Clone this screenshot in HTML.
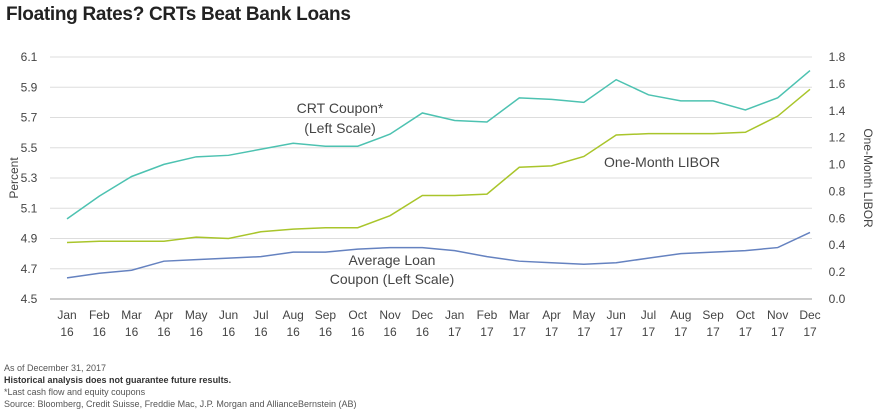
<!DOCTYPE html>
<html><head><meta charset="utf-8"><style>
body{margin:0;background:#fff;font-family:"Liberation Sans",sans-serif;}
#wrap{position:relative;width:880px;height:410px;overflow:hidden;}
.title{position:absolute;left:6px;top:4px;font-size:19px;font-weight:bold;color:#222;letter-spacing:-0.3px;}
.foot{position:absolute;left:4px;font-size:9px;color:#555;}
svg text{font-family:"Liberation Sans",sans-serif;}
</style></head><body>
<div id="wrap">
<div class="title">Floating Rates? CRTs Beat Bank Loans</div>
<svg id="chart" width="880" height="410" style="position:absolute;left:0;top:0"></svg>
<div class="foot" style="top:363px">As of December 31, 2017</div>
<div class="foot" style="top:375px;font-weight:bold;color:#333">Historical analysis does not guarantee future results.</div>
<div class="foot" style="top:387px">*Last cash flow and equity coupons</div>
<div class="foot" style="top:399px">Source: Bloomberg, Credit Suisse, Freddie Mac, J.P. Morgan and AllianceBernstein (AB)</div>
</div>
<script>
const months=["Jan","Feb","Mar","Apr","May","Jun","Jul","Aug","Sep","Oct","Nov","Dec","Jan","Feb","Mar","Apr","May","Jun","Jul","Aug","Sep","Oct","Nov","Dec"];
const years=["16","16","16","16","16","16","16","16","16","16","16","16","17","17","17","17","17","17","17","17","17","17","17","17"];
const crt=[5.03,5.18,5.31,5.39,5.44,5.45,5.49,5.53,5.51,5.51,5.59,5.73,5.68,5.67,5.83,5.82,5.80,5.95,5.85,5.81,5.81,5.75,5.83,6.01];
const libor=[0.42,0.43,0.43,0.43,0.46,0.45,0.50,0.52,0.53,0.53,0.62,0.77,0.77,0.78,0.98,0.99,1.06,1.22,1.23,1.23,1.23,1.24,1.36,1.56];
const loan=[4.64,4.67,4.69,4.75,4.76,4.77,4.78,4.81,4.81,4.83,4.84,4.84,4.82,4.78,4.75,4.74,4.73,4.74,4.77,4.80,4.81,4.82,4.84,4.94];
const leftTicks=["4.5","4.7","4.9","5.1","5.3","5.5","5.7","5.9","6.1"];
const rightTicks=["0.0","0.2","0.4","0.6","0.8","1.0","1.2","1.4","1.6","1.8"];
const svg=document.getElementById('chart');const NS="http://www.w3.org/2000/svg";
const X0=67,X1=810,YT=57,YB=299;
const x=i=>X0+(X1-X0)*i/(months.length-1);
const yl=v=>YB-(v-4.5)/(6.1-4.5)*(YB-YT);
const yr=v=>YB-v/1.8*(YB-YT);
function el(t,a,txt){const e=document.createElementNS(NS,t);for(const k in a)e.setAttribute(k,a[k]);if(txt!==undefined)e.textContent=txt;svg.appendChild(e);return e;}
leftTicks.forEach(t=>{const v=parseFloat(t);const g=el('line',{x1:50,x2:812,y1:yl(v),y2:yl(v),stroke:v===4.5?'#999':'#ddd','stroke-width':1});

const tx=el('text',{x:29,y:yl(v)+4,'font-size':12,fill:'#444','text-anchor':'middle'},t);
});
rightTicks.forEach(t=>{const v=parseFloat(t);const tx=el('text',{x:837,y:yr(v)+4,'font-size':12,fill:'#444','text-anchor':'middle'},t);
});
months.forEach((m,i)=>{const a=el('text',{x:x(i),y:319,'font-size':12,fill:'#444','text-anchor':'middle'},m);

const b=el('text',{x:x(i),y:336,'font-size':12,fill:'#444','text-anchor':'middle'},years[i]);
});
function line(d,fy,c,name){const p=el('polyline',{points:d.map((v,i)=>x(i)+','+fy(v)).join(' '),fill:'none',stroke:c,'stroke-width':1.5});
}
line(crt,yl,'#4dc2b1','crt-coupon-line');
line(libor,yr,'#a9c52b','libor-line');
line(loan,yl,'#6582c0','avg-loan-line');
function lab(t,xx,yy,name){const e=el('text',{x:xx,y:yy,'font-size':14,fill:'#444','text-anchor':'middle'},t);}
lab('CRT Coupon*',340,113,'crt-label');lab('(Left Scale)',340,133,'crt-label-scale');
lab('One-Month LIBOR',662,167,'libor-label');
lab('Average Loan',392,265,'loan-label');lab('Coupon (Left Scale)',392,284,'loan-label-scale');
const a=el('text',{x:18,y:178,'font-size':12,fill:'#444','text-anchor':'middle',transform:'rotate(-90 18 178)'},'Percent');

const b=el('text',{x:864,y:178,'font-size':12,fill:'#444','text-anchor':'middle',transform:'rotate(90 864 178)'},'One-Month LIBOR');

</script>
</body></html>
